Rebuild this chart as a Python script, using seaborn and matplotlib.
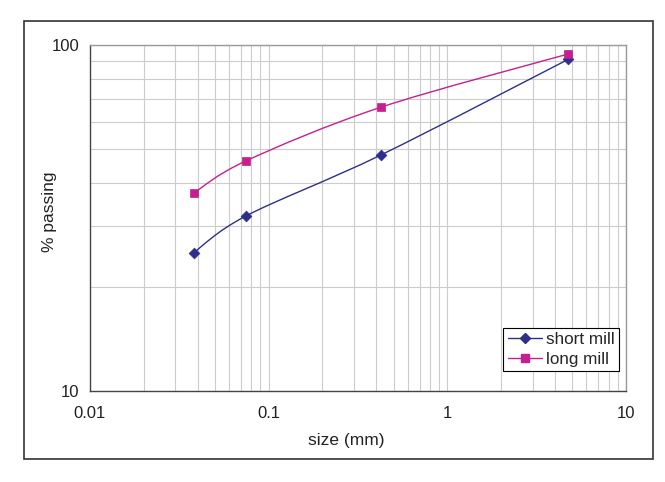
import matplotlib.pyplot as plt
import numpy as np
import pandas as pd
import seaborn as sns
from matplotlib.lines import Line2D
from matplotlib.patches import PathPatch, Rectangle
from matplotlib.path import Path
from matplotlib.ticker import FixedLocator, LogLocator, NullFormatter

# sieve sizes (mm) and cumulative % passing
sizes_mm = [0.038, 0.075, 0.425, 4.75]
short_mill = [25.1, 32.1, 48.1, 90.9]
long_mill = [37.3, 46.3, 66.1, 94.2]
series_names = ['short mill', 'long mill']
x_ticks = [0.01, 0.1, 1, 10]
x_tick_labels = ['0.01', '0.1', '1', '10']
y_ticks = [10, 100]
y_tick_labels = ['10', '100']

colors = {'short mill': '#2E2E8C', 'long mill': '#C4208E'}
markers = {'short mill': 'D', 'long mill': 's'}
marker_sizes = {'short mill': 30, 'long mill': 40}


def smooth_path(xs, ys):
    # Excel-style smoothed line: cubic bezier through the points in log space
    lx, ly = np.log10(xs), np.log10(ys)
    pts = np.column_stack([lx, ly])
    n = len(pts)
    verts = [pts[0]]
    codes = [Path.MOVETO]
    for i in range(n - 1):
        p_prev = pts[i - 1] if i > 0 else pts[i]
        p_next2 = pts[i + 2] if i + 2 < n else pts[i + 1]
        c1 = pts[i] + (pts[i + 1] - p_prev) / 6
        c2 = pts[i + 1] - (p_next2 - pts[i]) / 6
        verts += [c1, c2, pts[i + 1]]
        codes += [Path.CURVE4] * 3
    return Path(10 ** np.array(verts), codes)


sns.set_theme(style='white')
plt.rcParams['font.family'] = ['Liberation Sans', 'DejaVu Sans']

df = pd.DataFrame({
    'size': sizes_mm * 2,
    'passing': short_mill + long_mill,
    'series': ['short mill'] * len(sizes_mm) + ['long mill'] * len(sizes_mm),
})

fig = plt.figure(figsize=(6.65, 4.82), dpi=100)
ax = fig.add_axes([90 / 665, 1 - 391 / 482, 536 / 665, 346 / 482])
ax.set_xscale('log')
ax.set_yscale('log')

for name, vals in zip(series_names, [short_mill, long_mill]):
    ax.add_patch(PathPatch(smooth_path(sizes_mm, vals), facecolor='none',
                           edgecolor=colors[name], lw=1.0, zorder=3))
    sns.scatterplot(data=df[df['series'] == name], x='size', y='passing',
                    marker=markers[name], s=marker_sizes[name], color=colors[name],
                    edgecolor=colors[name], linewidth=0.5, ax=ax, zorder=4, legend=False)

ax.set_xlim(0.01, 10)
ax.set_ylim(10, 100)
ax.xaxis.set_major_locator(FixedLocator(x_ticks))
ax.set_xticklabels(x_tick_labels)
ax.yaxis.set_major_locator(FixedLocator(y_ticks))
ax.set_yticklabels(y_tick_labels)
ax.xaxis.set_minor_locator(LogLocator(base=10, subs=np.arange(2, 10)))
ax.yaxis.set_minor_locator(LogLocator(base=10, subs=np.arange(2, 10)))
ax.xaxis.set_minor_formatter(NullFormatter())
ax.yaxis.set_minor_formatter(NullFormatter())

ax.grid(True, which='both', color='#cccccc', lw=0.8)
ax.set_axisbelow(True)
ax.tick_params(which='major', direction='out', length=4, width=0.8, color='#444444',
               labelsize=12, labelcolor='#222222')
ax.tick_params(axis='x', which='major', pad=6.5)
ax.tick_params(axis='y', which='major', pad=3.5)
ax.tick_params(which='minor', length=0)
for side in ['left', 'bottom']:
    ax.spines[side].set_color('#444444')
    ax.spines[side].set_linewidth(1.0)
for side in ['top', 'right']:
    ax.spines[side].set_color('#999999')
    ax.spines[side].set_linewidth(1.0)

ax.set_xlabel('size (mm)', fontsize=12.5, color='#222222')
ax.set_ylabel('% passing', fontsize=12.5, color='#222222')
ax.xaxis.set_label_coords(0.479, -0.122)
ax.yaxis.set_label_coords(-0.062, 0.517)

handles = [Line2D([0], [0], color=colors[n], lw=1.0, marker=markers[n],
                  markersize=5 if n == 'short mill' else 6, markeredgecolor=colors[n])
           for n in series_names]
leg = ax.legend(handles, series_names, loc='lower right', bbox_to_anchor=(0.987, 0.058),
                fontsize=12.3, frameon=True, fancybox=False, framealpha=1,
                edgecolor='black', handlelength=2.0, handletextpad=0.25,
                borderpad=0.25, labelspacing=0.25, borderaxespad=0)
leg.get_frame().set_linewidth(0.8)

fig.patches.append(Rectangle((24 / 665, 1 - 459 / 482), 629 / 665, 438 / 482,
                             transform=fig.transFigure, fill=False,
                             edgecolor='#333333', lw=1.2))

fig.savefig('out.png', dpi=100)
